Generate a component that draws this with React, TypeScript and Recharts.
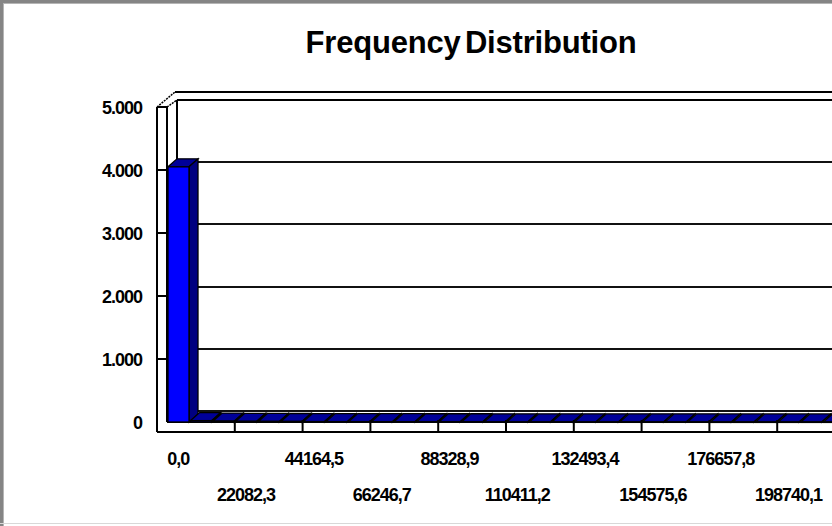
import { BarChart, Bar, XAxis, YAxis, CartesianGrid, ReferenceArea } from "recharts";

// frequency per bin (bin width ~7360,77)
const freq = [
  4050, 22, 14, 11, 9, 8, 7, 6, 6, 5,
  5, 4, 4, 4, 3, 3, 3, 3, 2, 2,
  2, 2, 2, 2, 1, 1, 1, 1, 1, 1,
];

// labels shown under every 3rd bin
const xTickLabels = [
  "0,0", "22082,3", "44164,5", "66246,7", "88328,9",
  "110411,2", "132493,4", "154575,6", "176657,8", "198740,1",
];

const yTicks = [0, 1000, 2000, 3000, 4000, 5000];
const yTickLabels = ["0", "1.000", "2.000", "3.000", "4.000", "5.000"];

const data = freq.map((count, bin) => ({ bin, count }));

const FONT = "'Liberation Sans', Arial, sans-serif";
const BLUE = "#0000ff";
const NAVY = "#000080";
const DX = 9; // bar depth
const DY = -8;
const WALL = 10; // wall thickness / depth offset

function Column3D(props: any) {
  const { x, y, width, height } = props;
  if (x == null || width == null) return null;
  const b = y + height;
  return (
    <g stroke="#000" strokeWidth={1.3}>
      <polygon
        points={`${x},${y} ${x + DX},${y + DY} ${x + width + DX},${y + DY} ${x + width},${y}`}
        fill="#000099"
      />
      <polygon
        points={`${x + width},${y} ${x + width + DX},${y + DY} ${x + width + DX},${b + DY} ${x + width},${b}`}
        fill={NAVY}
      />
      <rect x={x} y={y} width={width} height={Math.max(height, 0.5)} fill={BLUE} />
    </g>
  );
}

function Walls(props: any) {
  const { x, y, width, height } = props;
  const r = x + width + 40;
  const b = y + height;
  return (
    <g stroke="#000" strokeWidth={2} fill="none">
      {/* left wall */}
      <line x1={x - WALL} y1={y} x2={x - WALL} y2={b + WALL} />
      <line x1={x} y1={y} x2={x} y2={b} />
      <line x1={x - WALL} y1={y} x2={x} y2={y} />
      <line x1={x - WALL} y1={y} x2={x + 8} y2={y - 15} strokeDasharray="2 1" strokeWidth={1.5} />
      <line x1={x} y1={y} x2={x + WALL} y2={y - 7} strokeDasharray="2 1" strokeWidth={1.5} />
      <line x1={x + WALL} y1={y - 7} x2={x + WALL} y2={b - 11} />
      {/* back wall top */}
      <line x1={x + 8} y1={y - 15} x2={r} y2={y - 15} />
      <line x1={x + WALL} y1={y - 7} x2={r} y2={y - 7} />
      {/* floor */}
      <line x1={x} y1={b} x2={r} y2={b} />
      <line x1={x - WALL} y1={b + WALL} x2={r} y2={b + WALL} />
    </g>
  );
}

function BackGridLine(p: any) {
  const top = p.y ?? 107;
  const h = p.height ?? 315;
  const frac = (top + h - p.y1) / h;
  const yb = Math.round(p.y1 - 11 + 4 * frac);
  return (
    <line
      key={p.key ?? `g-${p.index}`}
      x1={p.x1 + WALL}
      x2={p.x2 + 40}
      y1={yb}
      y2={yb}
      stroke="#111"
      strokeWidth={2}
    />
  );
}

function XTick(props: any) {
  const { x, y, payload } = props;
  const i = Number(payload.value);
  const half = payload.offset ?? 11.3;
  const showTick = i % 3 === 0 && i > 0;
  const label = i % 3 === 0 ? xTickLabels[i / 3] : undefined;
  const row2 = i % 6 === 3;
  return (
    <g>
      {showTick && (
        <line x1={x - half} x2={x - half} y1={y - 2} y2={y + WALL} stroke="#000" strokeWidth={2} />
      )}
      {label && (
        <text
          x={x}
          y={y + (row2 ? 79 : 43)}
          textAnchor="middle"
          fontSize={18}
          fontWeight="bold"
          fontFamily={FONT}
          fill="#000"
          letterSpacing={-1}
        >
          {label}
        </text>
      )}
    </g>
  );
}

function YTick(props: any) {
  const { x, y, payload, index } = props;
  const v = Number(payload.value);
  const idx = yTicks.indexOf(v);
  return (
    <g>
      {v > 0 && v < 5000 && (
        <line x1={x + 15} x2={x + 25} y1={y} y2={y} stroke="#000" strokeWidth={2} />
      )}
      <text
        x={x}
        y={y + 6.5}
        textAnchor="end"
        fontSize={18}
        fontWeight="bold"
        fontFamily={FONT}
        fill="#000"
        letterSpacing={-1}
      >
        {yTickLabels[idx >= 0 ? idx : index]}
      </text>
    </g>
  );
}

export default function App() {
  return (
    <div
      style={{
        position: "fixed",
        left: 0,
        top: 0,
        width: 832,
        height: 526,
        overflow: "hidden",
        background: "#fff",
      }}
    >
      <BarChart
        width={865}
        height={526}
        data={data}
        barSize={21}
        margin={{ top: 107, right: 20, left: 0, bottom: 0 }}
      >
        <CartesianGrid vertical={false} horizontal={BackGridLine} />
        <ReferenceArea y1={0} y2={5000} ifOverflow="visible" shape={Walls} />
        <XAxis
          dataKey="bin"
          type="category"
          interval={0}
          height={104}
          axisLine={false}
          tickLine={false}
          tickSize={0}
          tickMargin={0}
          tick={XTick}
        />
        <YAxis
          type="number"
          domain={[0, 5000]}
          ticks={yTicks}
          width={167}
          axisLine={false}
          tickLine={false}
          tickSize={0}
          tickMargin={25}
          tick={YTick}
          interval={0}
        />
        <Bar dataKey="count" shape={Column3D} isAnimationActive={false} />
      </BarChart>
      <div
        style={{
          position: "absolute",
          left: 471,
          top: 27,
          transform: "translateX(-50%)",
          fontFamily: FONT,
          fontWeight: "bold",
          fontSize: 31,
          lineHeight: "31px",
          letterSpacing: -0.2,
          wordSpacing: -4,
          whiteSpace: "nowrap",
          color: "#000",
        }}
      >
        Frequency Distribution
      </div>
      <div style={{ position: "absolute", left: 0, top: 0, width: 832, height: 3, background: "#858585" }} />
      <div style={{ position: "absolute", left: 0, top: 3, width: 832, height: 1, background: "#b5b5b5" }} />
      <div style={{ position: "absolute", left: 0, top: 0, width: 3, height: 526, background: "#858585" }} />
      <div style={{ position: "absolute", left: 3, top: 3, width: 1, height: 523, background: "#b5b5b5" }} />
      <div style={{ position: "absolute", left: 0, top: 523, width: 832, height: 1, background: "#d8d8d8" }} />
    </div>
  );
}
